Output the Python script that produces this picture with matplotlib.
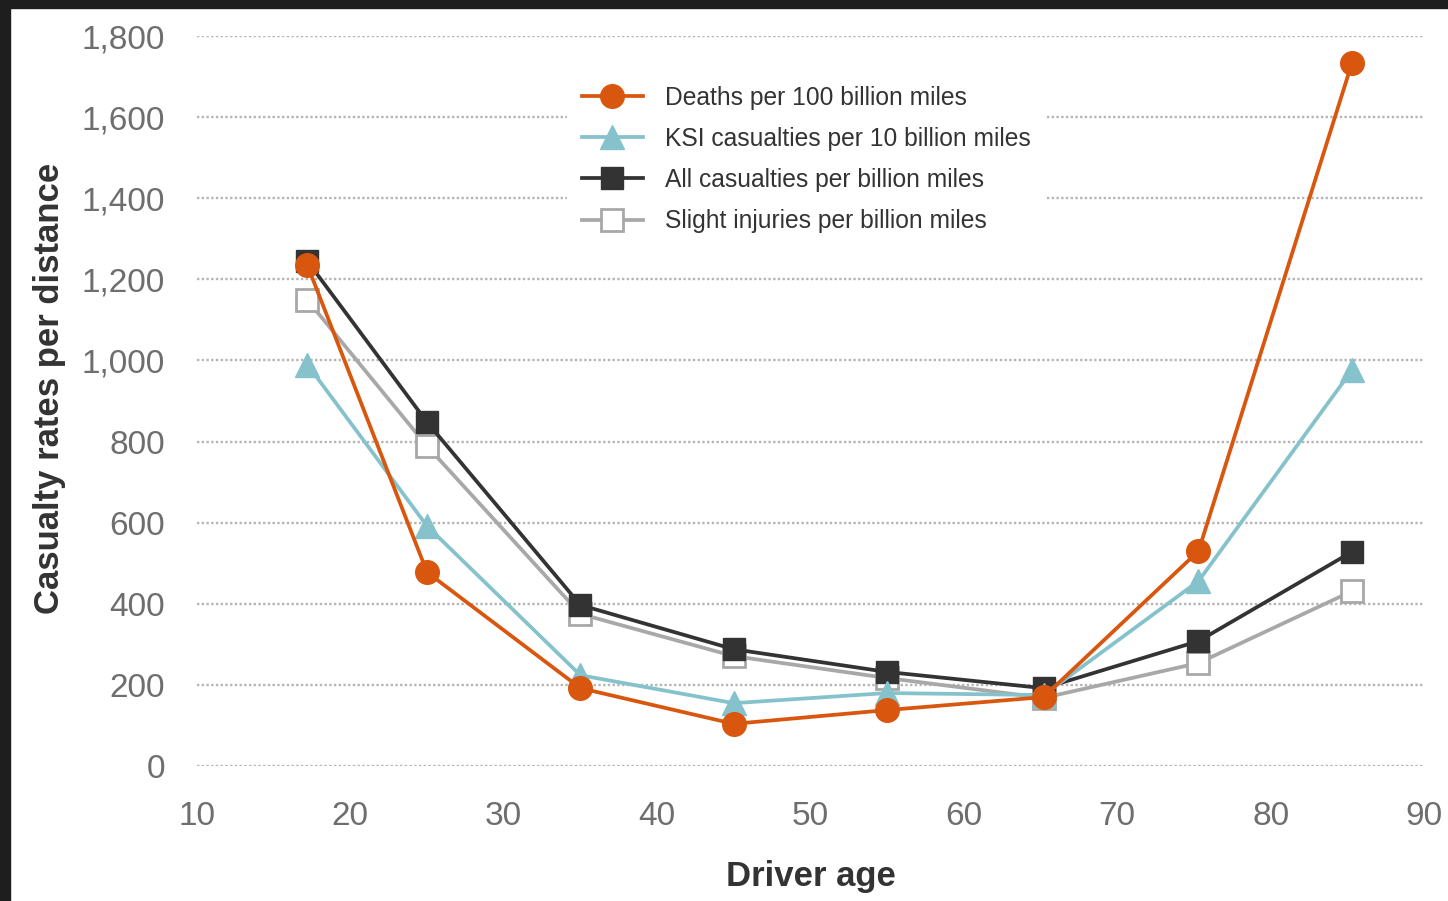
import matplotlib
matplotlib.use('Agg')
import matplotlib.pyplot as plt
from matplotlib.patches import Rectangle

plt.rcParams['font.family'] = ['Liberation Sans', 'DejaVu Sans']

# driver age (band midpoints) and rates
ages = [17.2, 25, 35, 45, 55, 65.2, 75.3, 85.3]
deaths = [1235, 478, 192, 104, 138, 170, 530, 1733]
ksi = [990, 592, 224, 155, 180, 175, 456, 976]
all_cas = [1245, 848, 397, 288, 232, 192, 308, 528]
slight = [1149, 789, 375, 271, 217, 168, 254, 431]

yticks = list(range(0, 1801, 200))
xticks = list(range(10, 91, 10))

orange = '#D9560F'
teal = '#86C2CC'
dark = '#333333'
grey = '#A8A8A8'

fig = plt.figure(figsize=(14.48, 9.01), dpi=100)
ax = fig.add_axes([0.136, 0.1498, 0.8474, 0.8102])

# dark frame of the screenshot
fig.patches.append(Rectangle((0, 0.991), 1, 0.009, transform=fig.transFigure, color='#1e1e1e', zorder=0))
fig.patches.append(Rectangle((0, 0), 0.0069, 1, transform=fig.transFigure, color='#1e1e1e', zorder=0))

lw = 2.7
ax.plot(ages, slight, color=grey, lw=lw, marker='s', ms=16, mfc='white', mec=grey, mew=2,
        label='Slight injuries per billion miles', zorder=3)
ax.plot(ages, all_cas, color=dark, lw=lw, marker='s', ms=16, mfc=dark, mec=dark,
        label='All casualties per billion miles', zorder=4)
ax.plot(ages, ksi, color=teal, lw=lw, marker='^', ms=17, mfc=teal, mec=teal,
        label='KSI casualties per 10 billion miles', zorder=5)
ax.plot(ages, deaths, color=orange, lw=lw, marker='o', ms=17, mfc=orange, mec=orange,
        label='Deaths per 100 billion miles', zorder=6)

ax.set_xlim(10, 90)
ax.set_ylim(0, 1800)
ax.set_xticks(xticks)
ax.set_yticks(yticks)
ax.set_yticklabels([f'{v:,}' for v in yticks])
ax.tick_params(axis='both', length=0, labelsize=24, labelcolor='#6e6e6e')
ax.tick_params(axis='y', pad=23)
ax.tick_params(axis='x', pad=25)
for s in ax.spines.values():
    s.set_visible(False)
ax.grid(axis='y', color='#b5b5b5', lw=1.7, ls=(0, (1, 1)), zorder=0)
ax.set_axisbelow(True)

ax.set_xlabel('Driver age', fontsize=25, fontweight='bold', color='#333333', labelpad=20)
ax.set_ylabel('Casualty rates per distance', fontsize=25, fontweight='bold', color='#333333')
ax.yaxis.set_label_coords(-0.107, 0.518)

h, l = ax.get_legend_handles_labels()
order = [3, 2, 1, 0]
leg = ax.legend([h[i] for i in order], [l[i] for i in order],
                loc='upper left', bbox_to_anchor=(0.383, 0.935), bbox_transform=fig.transFigure,
                fontsize=17.7, frameon=True, facecolor='white', edgecolor='none', framealpha=1,
                handlelength=2.5, handletextpad=0.9, labelspacing=0.7, borderpad=0.6)
for t in leg.get_texts():
    t.set_color('#333333')

fig.savefig('out.png', dpi=100)
